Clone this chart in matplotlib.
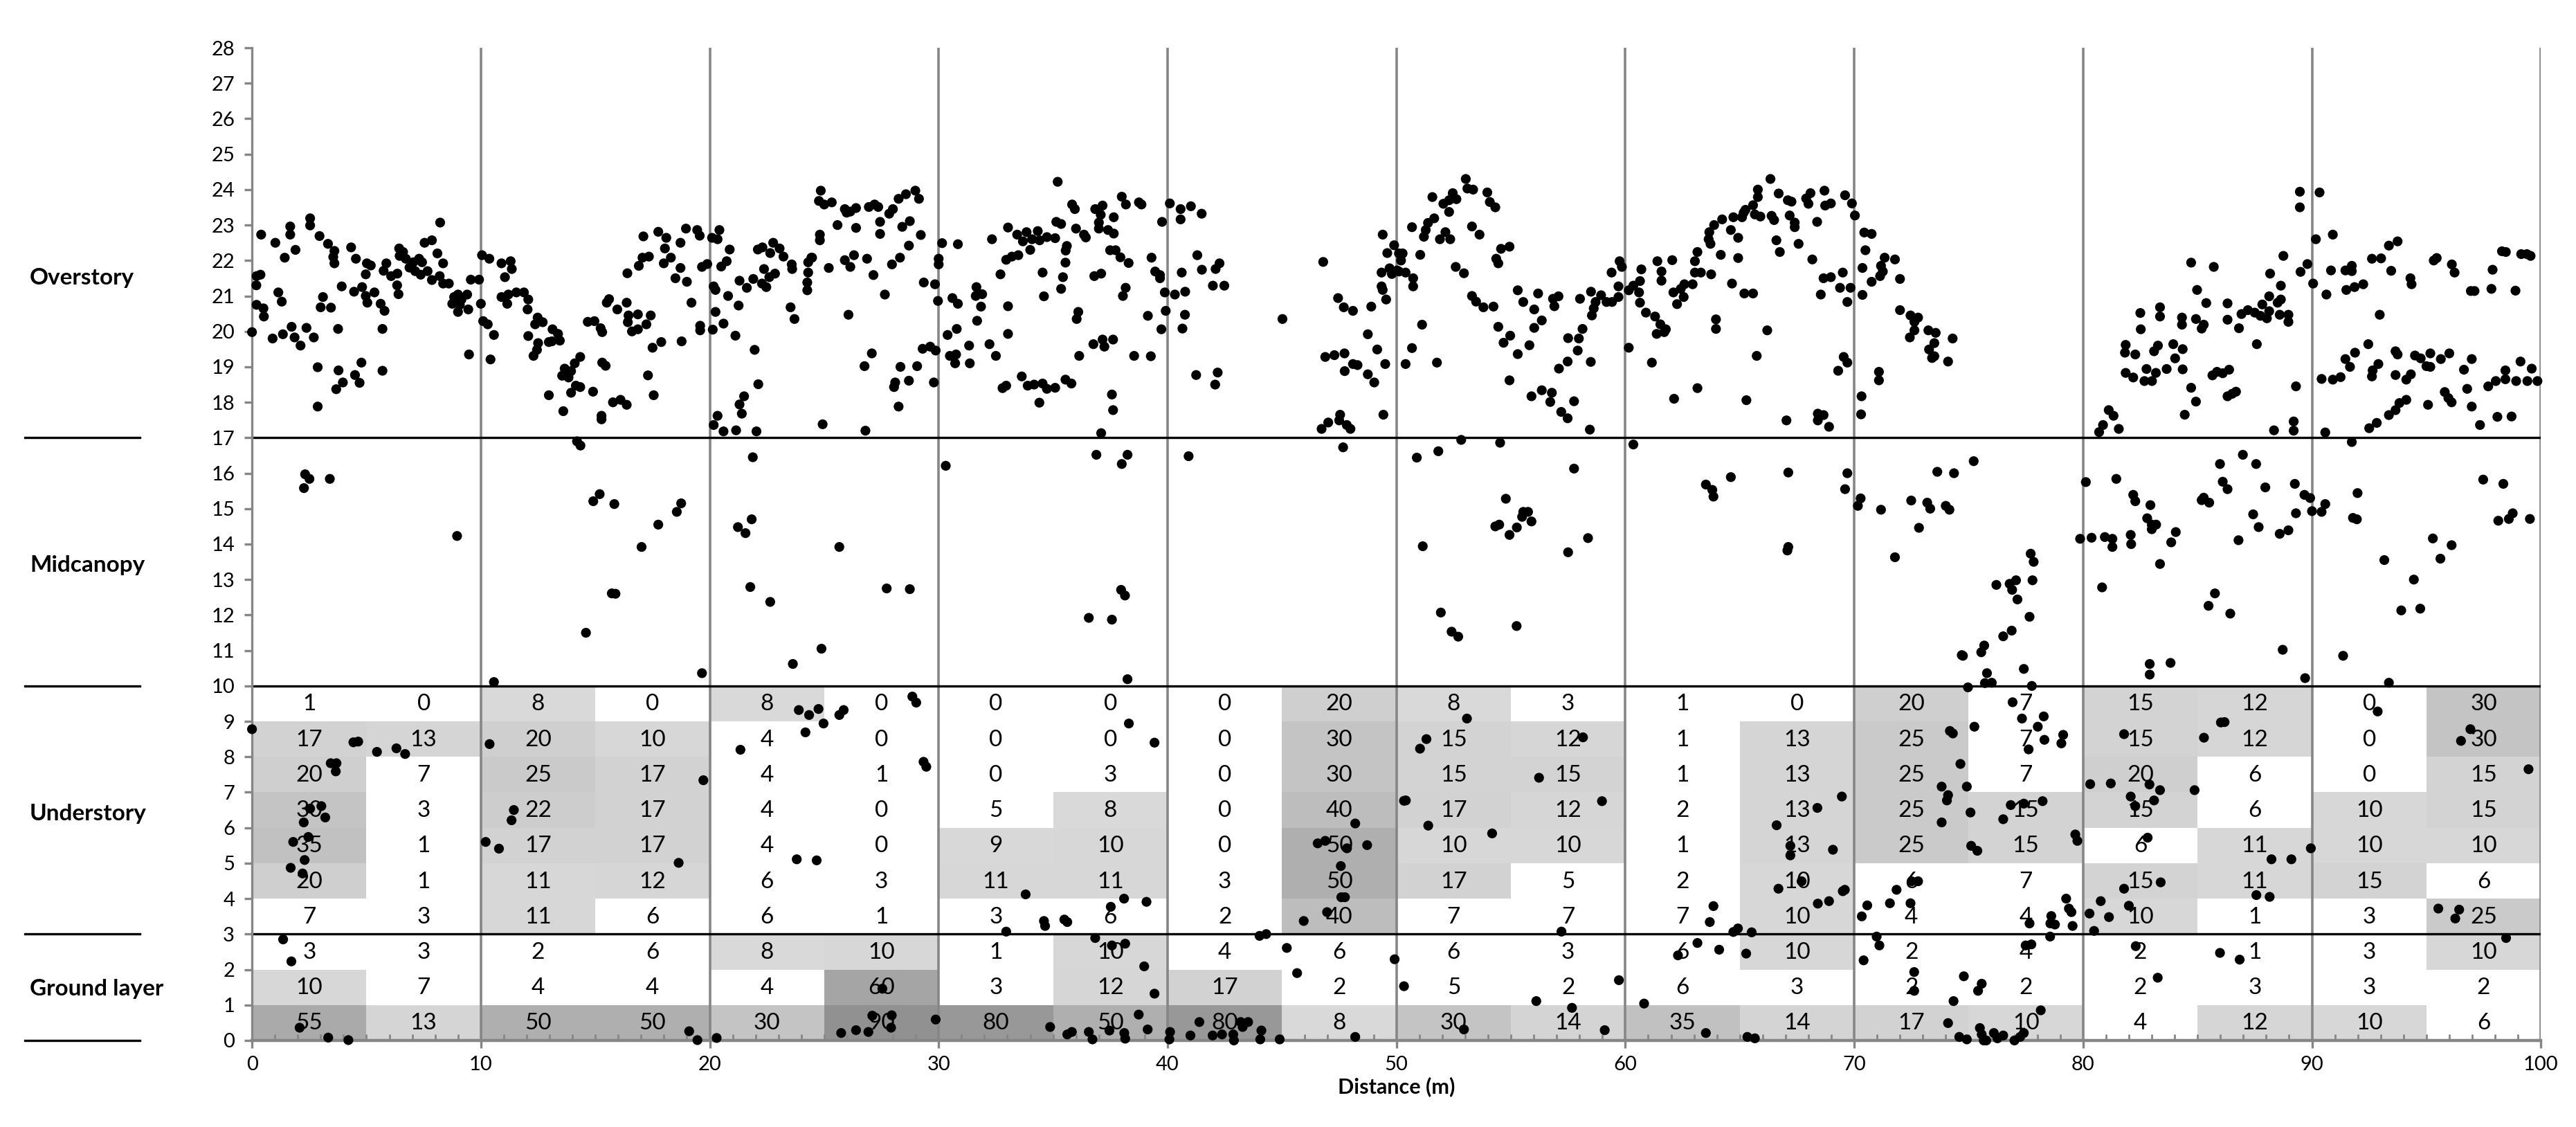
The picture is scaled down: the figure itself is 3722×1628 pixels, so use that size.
import numpy as np
import matplotlib
matplotlib.use("Agg")
import matplotlib.pyplot as plt
from matplotlib.patches import Rectangle
from matplotlib import transforms

plt.rcParams['font.family'] = ['Lato', 'DejaVu Sans']

# cell values, 5 m columns (0-5, 5-10, ... 95-100)
# understory rows from top (9-10 m) to bottom (3-4 m)
understory = [
    [1, 0, 8, 0, 8, 0, 0, 0, 0, 20, 8, 3, 1, 0, 20, 7, 15, 12, 0, 30],
    [17, 13, 20, 10, 4, 0, 0, 0, 0, 30, 15, 12, 1, 13, 25, 7, 15, 12, 0, 30],
    [20, 7, 25, 17, 4, 1, 0, 3, 0, 30, 15, 15, 1, 13, 25, 7, 20, 6, 0, 15],
    [30, 3, 22, 17, 4, 0, 5, 8, 0, 40, 17, 12, 2, 13, 25, 15, 15, 6, 10, 15],
    [35, 1, 17, 17, 4, 0, 9, 10, 0, 50, 10, 10, 1, 13, 25, 15, 6, 11, 10, 10],
    [20, 1, 11, 12, 6, 3, 11, 11, 3, 50, 17, 5, 2, 10, 6, 7, 15, 11, 15, 6],
    [7, 3, 11, 6, 6, 1, 3, 6, 2, 40, 7, 7, 7, 10, 4, 4, 10, 1, 3, 25],
]
# ground layer rows from top (2-3 m) to bottom (0-1 m)
ground = [
    [3, 3, 2, 6, 8, 10, 1, 10, 4, 6, 6, 3, 6, 10, 2, 4, 2, 1, 3, 10],
    [10, 7, 4, 4, 4, 60, 3, 12, 17, 2, 5, 2, 6, 3, 2, 2, 2, 3, 3, 2],
    [55, 13, 50, 50, 30, 90, 80, 50, 80, 8, 30, 14, 35, 14, 17, 10, 4, 12, 10, 6],
]

layer_names = ["Overstory", "Midcanopy", "Understory", "Ground layer"]
layer_label_y = [21.5, 13.4, 6.4, 1.45]
layer_bounds = [17, 10, 3]

# lidar returns (distance m, height m)
overstory_pts = [
    (0.4,22.73),(0.2,21.56),(0.37,21.6),(0.19,21.3),(0.2,20.75),(0.5,20.65),(0.52,20.42),(0.0,19.98),(1.02,22.5),(0.9,19.8),
    (1.35,19.92),(1.15,21.1),(1.3,20.84),(1.43,22.08),(1.67,22.73),(1.67,22.96),(1.9,22.3),(1.73,20.13),(1.86,19.83),(2.12,19.6),
    (2.38,20.1),(2.54,23.19),(2.54,22.99),(2.7,19.83),(2.95,22.69),(2.87,18.99),(2.87,17.88),(3.1,20.97),(3.0,20.68),(3.32,22.47),
    (3.45,20.67),(3.6,22.27),(3.55,22.1),(3.6,21.92),(3.78,18.9),(3.68,18.37),(3.97,18.56),(3.76,20.07),(3.92,21.27),(4.33,22.37),
    (4.46,21.12),(4.54,22.05),(4.81,21.25),(4.78,19.12),(4.5,18.77),(4.7,18.55),(4.97,21.61),(5.02,21.92),(5.19,21.86),(4.97,21.0),
    (5.35,21.1),(5.04,20.81),(5.62,20.78),(5.79,20.58),(5.7,20.07),(5.7,18.89),(5.75,21.71),(5.87,21.92),(6.08,21.56),(6.35,21.63),
    (6.34,21.3),(6.4,21.05),(6.43,22.34),(6.6,22.24),(6.45,22.13),(6.72,22.05),(6.88,21.8),(7.05,21.95),(7.3,22.05),(7.43,21.95),
    (7.13,21.7),(7.37,21.6),(7.67,21.7),(7.54,22.5),(7.86,22.57),(8.1,22.2),(8.22,23.07),(7.86,21.45),(8.2,21.56),(8.35,21.35),
    (8.6,21.35),(8.35,21.92),(8.83,20.97),(9.0,21.04),(9.15,20.9),(9.4,21.04),(8.75,20.78),(9.08,20.75),(9.0,20.55),(9.45,20.62),
    (9.48,19.35),(9.56,21.46),(9.92,21.46),(10.0,20.78),(10.05,22.15),(10.37,22.05),(10.1,20.29),(10.3,20.2),(10.57,19.9),(10.42,19.21),
    (10.9,21.92),(11.3,21.98),(11.35,21.76),(11.05,21.53),(10.9,20.97),(11.2,21.04),(11.15,20.78),(11.55,21.1),(11.88,21.1),(12.07,20.9),
    (12.04,20.62),(12.07,19.87),(12.48,20.39),(12.37,20.2),(12.7,20.26),(13.13,20.06),(13.37,19.93),(13.45,19.74),(12.5,19.67),(12.45,19.48),
    (12.3,19.31),(12.97,19.7),(13.1,19.72),(12.97,18.2),(13.66,18.95),(13.94,18.88),(14.1,19.1),(14.34,19.28),(13.55,18.75),(13.83,18.7),
    (13.94,18.27),(14.15,18.47),(14.34,18.43),(13.6,17.75),(14.9,18.3),(14.67,20.27),(14.96,20.29),(15.23,20.09),(15.3,19.98),(15.3,19.12),
    (15.45,19.03),(15.27,17.62),(15.27,17.52),(15.6,20.91),(15.5,20.81),(15.96,20.62),(15.77,18.0),(16.1,18.07),(16.37,17.93),(16.4,21.64),
    (16.37,20.81),(16.45,20.45),(16.86,20.48),(16.42,20.26),(16.6,20.0),(16.86,20.06),(17.23,20.2),(17.42,20.45),(17.3,18.76),(17.55,18.2),
    (16.9,21.85),(17.06,22.08),(17.34,22.11),(17.1,22.68),(17.75,22.81),(18.1,22.64),(18.04,22.34),(18.3,22.08),(17.99,21.92),(18.72,22.5),
    (18.72,21.79),(18.5,21.5),(19.0,21.4),(19.2,20.81),(17.5,19.54),(17.88,19.7),(18.77,19.72),(18.96,22.9),(19.45,22.86),(19.56,22.7),
    (19.58,20.16),(19.58,20.03),(20.1,22.64),(20.34,22.6),(20.42,22.86),(20.87,22.31),(19.66,21.82),(19.89,21.9),(20.5,21.83),(20.74,21.98),
    (20.17,21.27),(20.25,21.17),(20.8,21.0),(21.26,20.73),(20.25,20.55),(20.6,20.22),(20.13,20.05),(21.12,19.88),(21.96,19.48),(22.12,18.51),
    (21.5,18.17),(21.3,17.94),(21.4,17.68),(20.34,17.62),(20.17,17.36),(20.6,17.18),(21.15,17.21),(22.04,17.18),(21.3,21.43),(21.62,21.23),
    (21.9,21.48),(22.28,21.35),(22.47,21.25),(22.37,21.76),(22.1,22.31),(22.3,22.37),(22.77,22.5),(22.64,22.21),(23.05,22.34),(23.22,22.11),
    (22.6,21.53),(22.85,21.63),(23.58,21.89),(23.6,21.76),(23.53,20.68),(23.7,20.35),(24.3,21.95),(24.47,22.08),(24.3,21.66),(24.26,21.38),
    (24.26,21.16),
    (24.85,23.97),(24.77,23.68),(25.0,23.58),(25.33,23.64),(25.9,23.45),(25.98,23.35),(26.14,23.38),(26.39,23.48),(26.95,23.51),(27.2,23.58),
    (27.36,23.51),(27.84,23.32),(28.0,23.45),(28.25,23.74),(28.57,23.87),(28.98,23.97),(29.14,23.74),(25.58,23.0),(24.81,22.73),(24.81,22.57),
    (26.39,22.92),(27.44,23.09),(27.44,22.75),(28.41,22.95),(28.74,23.11),(29.22,22.72),(28.7,22.42),(24.44,22.08),(25.2,21.79),(25.9,22.01),
    (26.3,22.15),(26.14,21.82),(26.87,22.05),(27.15,21.59),(27.96,21.89),(28.31,22.08),(27.65,21.04),(26.06,20.47),(29.35,21.38),(29.84,21.33),
    (30.0,22.05),(30.0,21.89),(30.15,22.49),(30.84,22.46),(29.97,20.86),(30.6,20.94),(30.84,20.78),(31.65,21.25),(31.62,21.0),(31.9,21.05),
    (31.85,20.7),(31.68,20.3),(27.08,19.38),(26.76,19.02),(28.33,19.0),(29.06,19.02),(28.1,18.56),(28.05,18.43),(28.7,18.61),(28.25,17.88),
    (29.3,19.51),(29.63,19.57),(29.87,19.46),(29.79,18.56),(24.93,17.38),(26.8,17.2),(30.39,19.9),(30.79,20.07),(30.49,19.31),(30.76,19.35),
    (30.72,19.1),(31.36,19.1),(31.33,19.6),(32.22,19.64),(32.5,19.31),(33.03,19.93),(33.03,20.71),(32.7,21.61),(32.33,22.6),(33.03,22.93),
    (32.95,22.02),(33.2,22.11),(33.48,22.15),(33.43,22.73),(33.84,22.8),(33.68,22.54),(34.08,22.6),(34.33,22.83),(34.41,22.57),(34.0,22.3),
    (34.73,22.66),(35.09,22.63),(35.14,23.09),(35.35,23.03),(35.2,24.22),(35.6,22.41),(35.55,22.28),(34.54,21.66),(35.54,21.94),(35.43,21.53),
    (35.35,21.2),(34.6,20.99),(35.83,23.58),(35.95,23.45),(36.0,22.9),(36.35,22.73),(36.43,22.65),(36.84,23.45),(37.16,23.55),(37.08,23.29),
    (37.0,23.07),(37.0,22.9),(37.4,22.86),(37.65,22.76),(37.65,23.22),(38.0,23.8),(38.18,23.58),(38.75,23.64),(38.86,23.58),(37.49,22.29),
    (37.73,22.29),(37.94,22.09),(38.3,21.93),(36.8,21.56),(37.1,21.63),(38.17,21.23),(38.05,21.0),(36.1,20.55),(36.03,20.35),(36.76,19.64),
    (37.16,19.77),(37.24,19.57),(37.62,19.77),(36.14,19.31),(38.54,19.31),(39.27,19.3),(39.14,20.44),(39.3,22.08),(39.46,21.69),(39.67,21.59),
    (39.67,21.5),(39.76,23.09),(40.1,23.61),(40.57,23.45),(41.02,23.53),(40.57,23.16),(41.49,23.32),(39.88,21.1),(40.32,21.04),(40.77,21.12),
    (39.92,20.58),(39.73,20.06),(40.65,20.08),(40.76,20.47),(41.3,22.15),(40.62,21.66),(41.5,21.74),(42.1,21.76),(42.27,21.92),(41.98,21.29),
    (42.48,21.29),(41.25,18.77),(42.19,18.84),(42.08,18.5),(32.79,18.4),(32.95,18.47),(33.63,18.73),(33.89,18.47),(34.17,18.5),(34.54,18.53),
    (34.73,18.38),(35.09,18.41),(35.54,18.64),(35.8,18.53),(34.4,17.99),(37.57,18.22),(37.62,17.78),(37.1,17.13),(45.02,20.35),(46.8,21.96),
    (47.45,20.94),(47.7,20.68),(48.1,20.58),(48.9,20.7),(49.4,22.73),(49.6,22.21),(49.35,21.66),(49.35,21.27),(49.4,21.17),(49.55,20.9),
    (48.75,19.92),(49.16,19.49),(46.89,19.28),(47.29,19.33),(47.73,19.38),(48.1,19.08),(48.3,19.05),(47.74,18.88),(48.75,18.79),(49.03,18.56),
    (49.51,19.08),(46.73,17.25),(47.02,17.43),(47.54,17.65),(47.5,17.49),(47.83,17.36),(47.99,17.25),(49.43,17.65),
    (49.9,22.43),(50.11,22.2),(50.2,22.0),(50.27,22.2),(49.7,21.78),(50.03,21.72),(49.8,21.62),(50.68,22.94),(51.38,23.06),(51.28,22.86),
    (51.2,22.67),(51.57,23.79),(51.65,23.19),(52.05,23.6),(52.3,23.7),(52.62,23.73),(52.46,23.9),(52.3,23.37),(53.03,24.3),(53.1,24.03),
    (53.35,24.0),(53.97,23.92),(54.08,23.65),(54.32,23.5),(52.14,22.8),(51.9,22.6),(52.35,22.6),(53.3,22.96),(53.63,22.73),(51.04,22.16),
    (50.11,21.69),(50.4,21.66),(50.73,21.5),(50.73,21.27),(52.59,21.82),(52.95,21.64),(54.57,22.33),(54.94,22.39),(54.36,22.05),(54.45,21.92),
    (53.3,21.0),(53.48,20.84),(53.8,20.68),(54.24,20.7),(51.12,20.19),(50.68,19.53),(50.4,19.08),(51.77,19.12),(54.45,20.13),(54.97,19.88),
    (54.68,19.68),(55.3,21.16),(55.54,20.83),(56.02,20.62),(56.19,21.07),(56.84,20.92),(57.08,20.99),(56.9,20.71),(56.35,20.31),(56.02,20.1),
    (55.3,19.36),(55.81,19.61),(54.94,18.62),(55.9,18.17),(56.35,18.34),(56.79,18.27),(56.72,18.01),(57.2,17.73),(57.48,17.55),(57.76,18.03),
    (58.45,17.23),(57.1,18.95),(57.48,19.15),(57.5,19.81),(57.97,19.8),(57.92,19.46),(58.13,20.07),(58.49,19.14),(58.02,20.92),(58.5,21.12),
    (58.7,20.83),(58.94,21.02),(58.62,20.65),(58.54,20.45),(59.18,20.83),(59.42,20.83),(59.4,21.66),(59.75,21.98),(59.85,21.82),(59.7,21.27),
    (59.7,20.97),(60.15,21.16),(60.35,21.29),(60.64,21.42),(60.6,21.1),(60.64,20.81),(60.7,21.75),(60.15,19.54),(61.16,19.12),(60.9,20.53),
    (61.3,20.42),(61.53,20.2),(61.77,20.06),(61.37,19.93),(61.7,19.98),(61.4,21.98),(61.58,21.69),(61.58,21.43),(62.05,22.01),(62.1,21.1),
    (62.26,20.77),(62.55,20.97),(62.42,21.2),(62.58,21.33),(62.94,21.33),(63.04,21.98),(63.15,22.24),(63.04,21.66),(63.3,21.66),(63.75,21.61),
    (64.17,22.16),(64.66,21.35),(63.96,20.34),(63.96,20.07),(63.15,18.4),(62.13,18.1),(63.64,22.6),(63.72,22.47),(63.67,22.8),(63.88,23.0),
    (64.23,23.16),(64.72,23.22),(64.61,22.86),(64.93,22.64),(64.93,22.07),(65.17,23.35),(65.1,23.22),(65.25,23.43),(65.58,23.56),(65.79,23.79),
    (65.79,24.0),(65.66,23.3),(65.9,23.24),(66.39,23.26),(66.34,24.3),(65.2,21.07),(65.58,21.07),(65.74,19.31),(66.2,20.03),(65.29,18.06),
    (66.5,23.14),(66.6,22.57),(66.75,22.24),(66.7,23.89),(67.1,23.7),(67.26,23.66),(67.18,23.27),(67.4,23.07),(67.4,22.94),(67.57,22.47),
    (67.9,23.75),(68.09,23.9),(68.0,23.6),(68.17,22.03),(68.38,23.09),(68.7,23.97),(68.73,23.55),(68.98,23.61),(68.66,21.5),(68.98,21.53),
    (69.5,21.66),(69.38,21.23),(69.84,21.23),(68.54,21.04),(69.7,20.83),(69.6,23.84),(69.9,23.61),(70.03,23.27),(67.04,17.49),(68.41,17.68),
    (68.66,17.64),(68.41,17.49),(68.9,17.31),(69.3,18.89),(69.54,19.28),(69.7,19.12),(70.32,18.17),(70.3,17.66),(70.44,22.79),(70.76,22.75),
    (70.49,22.29),(70.36,21.79),(70.36,21.03),(70.76,21.4),(71.13,21.56),(71.25,21.69),(71.17,21.85),(71.33,22.08),(71.78,22.03),(72.0,21.48),
    (71.08,18.86),(71.08,18.62),(72.0,20.6),(72.46,20.45),(72.79,20.39),(72.63,20.27),(72.63,20.03),(72.43,19.83),(73.24,20.03),(73.56,19.96),
    (73.5,19.67),(73.27,19.49),(73.5,19.3),(73.4,19.25),(74.1,19.15),(74.3,19.8),
    (80.7,17.16),(80.87,17.36),(81.12,17.78),(81.33,17.62),(81.56,17.25),(81.86,19.62),(81.83,19.4),(82.28,19.35),(82.5,20.52),(82.52,20.06),
    (83.36,20.68),(83.36,20.42),(81.86,18.83),(82.19,18.7),(82.68,18.6),(83.01,18.6),(82.77,18.94),(83.18,18.83),(83.65,18.94),(83.27,19.6),
    (83.1,19.44),(83.94,19.64),(84.35,19.5),(84.02,19.24),(84.35,18.93),(84.32,20.39),(84.32,20.19),(84.72,21.94),(84.98,21.17),(84.93,20.35),
    (85.27,20.19),(85.18,20.08),(85.38,20.8),(85.71,21.82),(84.72,18.41),(84.93,18.02),(84.44,17.65),(85.65,18.76),(85.85,18.86),(86.1,18.82),
    (86.38,18.92),(86.31,18.17),(86.51,18.24),(86.68,18.3),(86.31,20.79),(86.31,20.33),(86.81,20.09),(86.92,20.49),(87.2,20.6),(87.5,20.53),
    (87.75,20.44),(88.03,20.37),(87.83,20.76),(88.13,20.99),(88.13,20.57),(88.59,20.47),(88.97,20.47),(88.97,20.27),(88.5,20.81),(88.64,20.9),
    (87.59,19.64),(88.17,21.63),(88.64,21.29),(88.75,22.13),(89.47,23.94),(90.33,23.92),(89.47,23.5),(89.5,21.68),(89.8,21.9),(90.05,21.35),
    (90.17,22.6),(90.91,22.73),(90.63,21.04),(90.83,21.72),(91.46,21.72),(91.74,21.85),(91.74,21.7),(91.5,21.17),(91.86,21.25),(92.24,21.33),
    (92.62,22.05),(93.02,22.06),(93.36,22.42),(93.74,22.54),(93.46,21.71),(92.96,20.47),(94.3,21.5),(94.35,21.33),(95.32,22.0),(95.45,22.07),
    (96.11,21.89),(96.23,21.66),(96.94,21.14),(97.1,21.14),(97.84,21.2),(97.89,21.74),(98.3,22.26),(98.47,22.24),(98.89,21.15),(99.14,22.18),
    (99.39,22.18),(99.55,22.13),(89.3,18.45),(89.2,17.46),(89.2,17.2),(88.34,17.21),(90.42,18.66),(90.91,18.64),(91.25,18.71),(90.58,17.15),
    (91.46,19.22),(91.66,19.0),(91.88,19.4),(92.46,19.64),(92.62,18.73),(92.65,18.9),(92.9,19.08),(93.65,19.44),(93.74,19.35),(93.65,18.77),
    (94.32,18.79),(94.12,18.64),(94.5,19.32),(94.75,19.24),(95.17,19.38),(95.0,19.02),(95.17,19.0),(95.63,19.22),(96.0,19.38),(96.98,19.22),
    (96.64,18.92),(96.78,18.38),(95.8,18.29),(95.96,18.12),(96.1,18.0),(95.07,17.93),(96.98,17.88),(92.5,17.27),(92.83,17.42),(93.36,17.64),
    (93.65,17.78),(93.82,17.98),(94.12,18.07),(97.34,17.36),(98.1,17.59),(98.72,17.6),(97.7,18.45),(98.03,18.6),(98.45,18.9),(98.45,18.65),
    (98.92,18.6),(99.11,19.15),(99.41,18.6),(99.6,18.95),(99.85,18.6),
]

midcanopy_pts = [
    (14.2,16.9),(14.35,16.78),(47.67,16.73),(91.74,16.88),(2.32,15.97),(2.51,15.84),(2.27,15.58),(3.4,15.84),(8.96,14.23),(21.88,16.45),
    (15.19,15.41),(14.91,15.21),(15.83,15.13),(18.75,15.15),(18.56,14.91),(17.75,14.55),(17.02,13.92),(21.83,14.7),(21.23,14.48),(21.56,14.31),
    (15.72,12.61),(15.88,12.6),(21.77,12.79),(22.64,12.37),(14.59,11.5),(23.63,10.62),(19.66,10.36),(10.57,10.11),
    (30.31,16.21),(36.89,16.52),(38.25,16.52),(38.0,16.26),(40.92,16.48),(25.66,13.92),(27.73,12.75),(28.74,12.73),(37.97,12.71),(38.14,12.55),
    (36.56,11.92),(37.57,11.87),(24.88,11.05),(38.25,10.19),
    (52.83,16.94),(54.53,16.86),(50.89,16.44),(51.83,16.62),(60.35,16.81),(57.76,16.13),(54.78,15.28),(55.54,14.91),(55.75,14.91),(55.49,14.77),
    (55.9,14.64),(54.32,14.5),(54.49,14.55),(55.26,14.47),(54.94,14.26),(58.37,14.17),(57.5,13.77),(51.15,13.94),(51.94,12.07),(52.41,11.53),
    (52.7,11.39),(55.25,11.69),(63.52,15.68),(63.8,15.53),(63.85,15.34),(64.61,15.89),(67.12,16.02),(67.12,13.92),(67.08,13.82),(69.7,16.0),
    (69.6,15.55),(70.28,15.29),(70.16,15.08),(71.17,14.97),(72.49,15.23),(73.19,15.17),(73.32,15.0),(73.63,16.04),(74.36,16.0),(74.0,15.08),
    (74.16,14.97),(72.83,14.46),(71.78,13.63),(74.7,10.87),
    (75.22,16.34),(77.71,13.73),(77.84,13.5),(76.21,12.85),(76.79,12.88),(77.07,12.98),(76.9,12.71),(77.79,12.98),(77.13,12.44),(77.66,11.95),
    (76.88,11.56),(76.51,11.4),(75.68,11.14),(75.55,10.95),(74.75,10.85),(75.8,10.36),(77.41,10.48),(76.01,10.09),(75.71,10.08),
    (80.12,15.75),(81.45,15.84),(79.87,14.15),(80.37,14.18),(80.95,14.2),(81.28,14.15),(81.28,13.92),(82.08,14.26),(82.1,14.0),(82.19,15.39),
    (82.28,15.21),(82.94,15.1),(82.8,14.73),(83.0,14.55),(83.19,14.55),(83.0,14.42),(84.05,14.34),(83.85,14.05),(83.36,13.44),(80.83,12.78),
    (85.18,15.24),(85.51,15.17),(85.27,15.31),(85.98,16.26),(86.98,16.52),(87.56,16.26),(86.1,15.76),(86.31,15.55),(87.96,15.6),(87.43,14.84),
    (87.67,14.48),(86.79,14.11),(88.59,14.29),(88.97,14.39),(89.3,14.87),(89.25,15.7),(89.67,15.39),(89.92,15.3),(90.0,14.93),(90.42,14.91),
    (90.58,15.13),(91.99,15.44),(91.79,14.74),(91.96,14.7),(85.76,12.61),(85.48,12.26),(86.43,12.04),(82.91,10.62),(82.91,10.32),(83.82,10.65),
    (88.72,11.02),(89.7,10.22),(91.36,10.85),(93.36,10.09),(93.16,13.55),(94.45,13.0),(95.28,14.16),(96.1,13.97),(95.61,13.59),(93.9,12.13),
    (94.73,12.18),(97.48,15.82),(98.36,15.7),(98.77,14.87),(98.6,14.71),(98.14,14.66),(99.52,14.71),
]

lower_pts = [
    (0.0,8.78),(4.43,8.41),(4.64,8.43),(5.46,8.14),(6.31,8.24),(6.69,8.08),(3.44,7.82),(3.69,7.82),(3.66,7.59),(2.54,6.54),
    (3.03,6.61),(3.2,6.29),(2.26,6.15),(2.46,5.74),(1.8,5.6),(2.3,5.09),(1.69,4.87),(2.21,4.71),(10.38,8.36),(19.72,7.34),
    (11.44,6.5),(11.34,6.21),(10.21,5.6),(10.79,5.41),(18.64,5.01),(21.34,8.2),(23.89,9.32),(24.34,9.18),(24.75,9.35),(24.18,8.69),
    (24.97,8.94),(23.8,5.11),(24.67,5.08),(1.36,2.85),(1.72,2.23),(2.08,0.36),(3.33,0.08),(4.21,0.01),(19.1,0.26),(19.46,0.01),
    (20.3,0.07),
    (28.85,9.7),(29.02,9.53),(25.66,9.18),(25.85,9.32),(29.34,7.86),(29.46,7.72),(38.31,8.94),(39.43,8.4),(33.8,4.12),(32.95,3.07),
    (34.6,3.37),(34.65,3.23),(35.49,3.41),(35.62,3.34),(37.52,3.77),(38.1,4.0),(39.08,3.91),(36.84,2.89),(37.57,2.68),(38.15,2.73),
    (38.98,2.09),(39.43,1.32),(44.02,2.95),(44.31,3.0),(45.21,2.61),(45.66,1.9),(45.95,3.37),(46.97,3.62),(48.2,6.12),(46.56,5.56),
    (46.89,5.63),(47.84,5.42),(48.72,5.51),(47.57,4.92),(47.59,4.04),(47.75,4.04),(50.33,6.76),(49.92,2.29),(50.33,1.53),(48.2,0.1),
    (25.74,0.21),(26.39,0.29),(26.93,0.24),(27.1,0.7),(27.95,0.71),(27.92,0.36),(27.54,1.46),(29.87,0.59),(34.87,0.38),(35.62,0.17),
    (35.82,0.24),(36.56,0.24),(36.72,0.03),(37.46,0.28),(38.11,0.21),(38.15,0.05),(38.74,0.73),(39.13,0.31),(40.11,0.24),(40.08,0.03),
    (41.0,0.14),(41.39,0.52),(41.97,0.14),(42.38,0.17),(42.87,0.17),(42.9,0.0),(43.2,0.52),(43.52,0.52),(43.28,0.38),(44.1,0.28),
    (44.05,0.03),(44.9,0.03),
    (53.08,9.08),(51.31,8.5),(51.03,8.23),(58.15,8.55),(56.23,7.41),(50.41,6.77),(58.98,6.75),(51.39,6.06),(54.18,5.84),(75.25,8.85),
    (74.18,8.73),(74.31,8.66),(74.64,7.8),(73.82,7.16),(74.92,7.16),(74.1,6.92),(74.05,6.77),(75.08,6.43),(73.82,6.15),(75.11,5.49),
    (75.38,5.35),(69.46,6.88),(68.39,6.56),(66.61,6.07),(67.21,5.49),(67.21,5.22),(69.07,5.38),(66.69,4.28),(67.7,4.49),(69.5,4.21),
    (69.59,4.25),(68.41,3.86),(68.9,3.93),(71.85,4.25),(72.51,4.49),(72.79,4.49),(71.56,3.87),(72.46,3.87),(70.57,3.81),(70.33,3.5),
    (63.85,3.79),(63.69,3.34),(64.72,3.06),(64.92,3.16),(65.52,3.05),(57.21,3.07),(63.15,2.75),(64.1,2.56),(62.3,2.4),(65.28,2.45),
    (70.98,2.93),(71.1,2.68),(70.41,2.26),(72.62,1.93),(72.62,1.4),(59.72,1.7),(56.11,1.11),(57.67,0.92),(60.82,1.04),(74.79,1.81),
    (75.57,1.6),(75.41,1.4),(74.34,1.11),(74.1,0.49),(52.95,0.31),(59.1,0.29),(63.52,0.21),(65.33,0.1),(65.66,0.06),(74.59,0.1),
    (74.92,0.03),(75.49,0.35),(75.57,0.17),(75.66,0.0),
    (74.97,9.96),(77.76,10.0),(76.92,9.54),(77.33,9.08),(78.28,9.14),(78.02,8.85),(77.62,8.21),(78.31,8.48),(79.05,8.38),(79.13,8.62),
    (76.84,6.64),(77.41,6.68),(78.23,6.75),(76.51,6.24),(79.66,5.81),(79.75,5.63),(80.31,7.23),(81.21,7.25),(82.08,6.88),(82.28,6.61),
    (82.9,7.22),(83.36,7.06),(83.1,6.77),(84.87,7.06),(81.79,8.64),(85.28,8.54),(86.02,8.97),(86.18,8.98),(82.82,5.72),(88.23,5.11),
    (89.1,5.11),(89.95,5.42),(81.79,4.28),(83.39,4.46),(87.57,4.1),(88.15,4.05),(79.26,4.0),(79.38,3.72),(79.49,3.62),(78.61,3.51),
    (78.57,3.3),(78.77,3.27),(77.66,3.3),(79.54,3.23),(78.56,2.93),(80.28,3.58),(81.13,3.48),(80.77,3.93),(82.0,3.8),(80.48,3.09),
    (77.49,2.68),(77.74,2.71),(82.3,2.66),(85.98,2.47),(86.84,2.28),(95.52,3.72),(96.43,3.69),(96.26,3.44),(98.48,2.89),(92.87,9.28),
    (96.92,8.78),(96.51,8.45),(99.46,7.65),(83.26,1.77),(78.15,0.85),(75.77,0.0),(76.1,0.21),(76.26,0.06),(76.51,0.14),(77.0,0.0),
    (77.25,0.1),(77.41,0.21),
]


def cell_grey(v):
    if v < 8:
        return "white"
    g = np.interp(v, [8, 20, 30, 40, 50, 60, 90], [217, 207, 196, 189, 175, 165, 145]) / 255
    return (g, g, g)


fig = plt.figure(figsize=(37.23, 16.28), dpi=100)
ax = fig.add_axes([0.0978, 0.0768, 0.8883, 0.8808])
ax.set_xlim(0, 100)
ax.set_ylim(0, 28)

# shaded cells with counts
rows = understory + ground
for i, row in enumerate(rows):
    y0 = 9 - i
    for c, v in enumerate(row):
        ax.add_patch(Rectangle((c * 5, y0), 5, 1, facecolor=cell_grey(v), edgecolor="none", zorder=0.5))
        ax.text(c * 5 + 2.5, y0 + 0.48, str(v), ha="center", va="center", fontsize=24, zorder=2)

# vertical grid every 10 m
for gx in range(0, 101, 10):
    ax.axvline(gx, color="#868686", lw=2.6, zorder=1)

# layer boundaries
for b in layer_bounds:
    ax.axhline(b, color="black", lw=2.4, zorder=2.5)

trans = transforms.blended_transform_factory(ax.transAxes, ax.transData)
for b in layer_bounds + [0]:
    ax.plot([-0.0992, -0.049], [b, b], color="black", lw=2.4, transform=trans, clip_on=False)
for name, ly in zip(layer_names, layer_label_y):
    ax.text(-0.0971, ly, name, transform=trans, ha="left", va="center", fontsize=24, fontweight="bold")

# points
for pts in (overstory_pts, midcanopy_pts, lower_pts):
    arr = np.array(pts)
    ax.scatter(arr[:, 0], arr[:, 1], s=105, color="black", edgecolors="none", zorder=3, clip_on=False)

# axes styling
for side in ("top", "right"):
    ax.spines[side].set_visible(False)
ax.spines["left"].set_color("#868686")
ax.spines["left"].set_linewidth(2.4)
ax.spines["bottom"].set_color("#868686")
ax.spines["bottom"].set_linewidth(3.2)

ax.set_xticks(range(0, 101, 10))
ax.set_xticks(range(0, 101, 1), minor=True)
ax.set_yticks(range(0, 29))
ax.tick_params(axis="x", which="major", direction="out", length=8, width=2.4, color="#868686",
               labelsize=21, pad=8)
ax.tick_params(axis="x", which="minor", direction="in", length=6.5, width=2, color="#868686")
ax.tick_params(axis="y", which="major", direction="out", length=8, width=2.4, color="#868686",
               labelsize=21, pad=10)
ax.set_xlabel("Distance (m)", fontsize=22, fontweight="bold", labelpad=3)

fig.savefig("out.png", dpi=100, facecolor="white")
